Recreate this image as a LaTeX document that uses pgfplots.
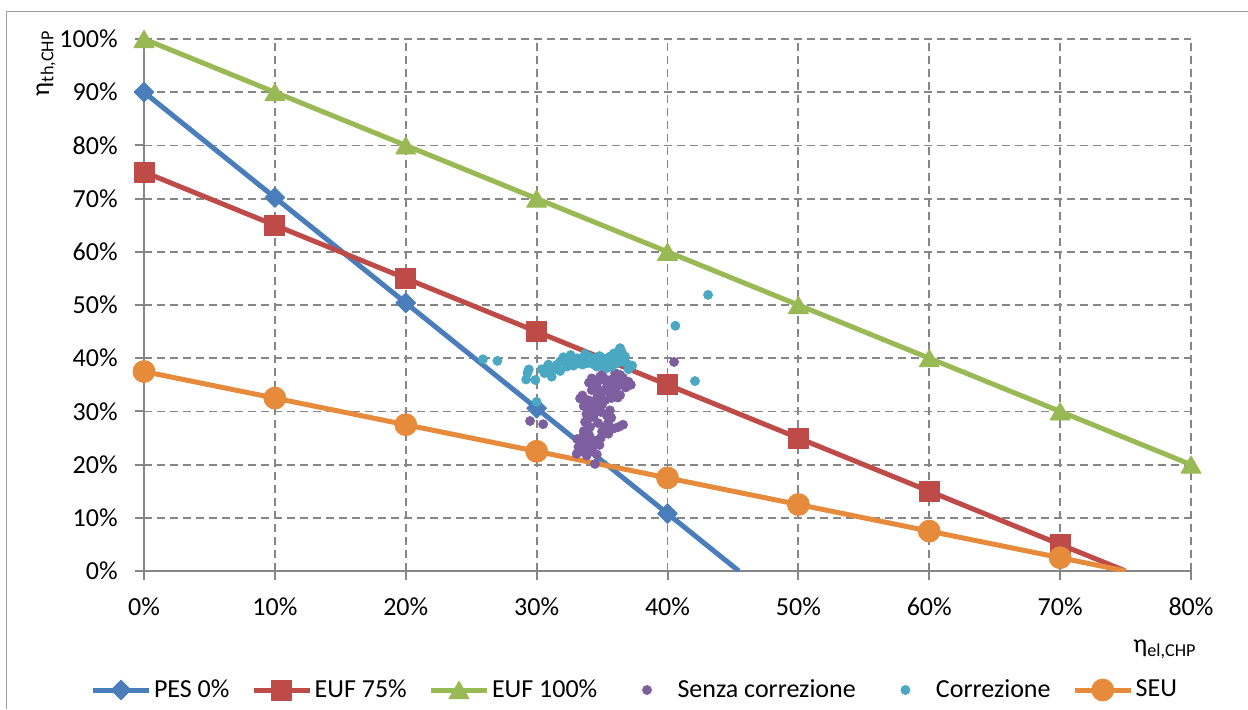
\documentclass[border=0pt]{standalone}
\usepackage{pgfplots}
\pgfplotsset{compat=1.18}
\usepackage{fontspec}
\setmainfont{Carlito}

\definecolor{cBlue}{HTML}{4A7EBB}
\definecolor{cRed}{HTML}{BE4B48}
\definecolor{cGreen}{HTML}{98B954}
\definecolor{cPurple}{HTML}{7D5FA0}
\definecolor{cTeal}{HTML}{4BA8C3}
\definecolor{cOrange}{HTML}{E68A3C}
\definecolor{axgray}{RGB}{134,134,134}

\begin{document}
\begin{tikzpicture}[x=0.5pt,y=-0.5pt,font=\fontsize{13}{15}\selectfont]
\useasboundingbox (0,0) rectangle (1248,709);
\draw[axgray!80, line width=0.8pt] (6.5,709) -- (6.5,11.5) -- (1248,11.5);
\coordinate (O) at (144,571);
\node[rotate=90, anchor=base east, inner sep=0pt] at (49,30) {η\textsubscript{th,CHP}};
\node[anchor=base east, inner sep=0pt] at (1197,652) {η\textsubscript{el,CHP}};
\begin{axis}[
    at={(O)}, anchor=south west,
    scale only axis, width=523.5pt, height=266pt,
    xmin=0, xmax=80, ymin=0, ymax=100,
    xtick={0,10,...,80}, ytick={0,10,...,100},
    /pgf/number format/assume math mode=true,
    xticklabel={\pgfmathprintnumber{\tick}\%},
    yticklabel={\pgfmathprintnumber{\tick}\%},
    axis x line*=bottom, axis y line*=left,
    axis line style={draw=axgray, line width=1pt, -},
    tick align=outside, major tick length=4.5pt,
    tick style={draw=axgray, line width=1pt},
    xticklabel style={anchor=north, inner sep=0pt, yshift=-8.5pt},
    yticklabel style={anchor=east, inner sep=0pt, xshift=-8.5pt},
    grid=major,
    major grid style={draw=axgray, line width=0.9pt, dash pattern=on 4pt off 2.5pt},
    legend columns=6,
    legend style={at={(0.469,-0.2237)}, anchor=center, draw=none, fill=none,
        nodes={inner sep=1.25pt},
        /tikz/every odd column/.append style={column sep=0pt},
        /tikz/every even column/.append style={column sep=9.6pt}},
    legend image code/.code={%
        \path[draw=none, fill=none] (0pt,-5pt) rectangle (28pt,5pt);
        \draw[mark repeat=2,mark phase=2,#1] plot coordinates {(0pt,0pt)(14pt,0pt)(28pt,0pt)};},
    every axis plot/.append style={line width=2.5pt, line join=round},
]
% tails of the lines down to the x axis, without markers
\addplot[cBlue, no marks, forget plot] coordinates {(40,10.8) (45.45,0)};
\addplot[cRed, no marks, forget plot] coordinates {(70,5) (75,0)};

\addplot[cBlue, mark=square*, mark size=3.5pt, mark options={rotate=45, line width=0.4pt}] coordinates {
    (0,90) (10,70.2) (20,50.4) (30,30.6) (40,10.8)
};
\addlegendentry{PES 0\%}
\addplot[cRed, mark=square*, mark size=5pt, mark options={line width=0.4pt}] coordinates {
    (0,75) (10,65) (20,55) (30,45) (40,35) (50,25) (60,15) (70,5)
};
\addlegendentry{EUF 75\%}
\addplot[cGreen, mark=triangle*, mark size=5.8pt, mark options={line width=0.4pt, yshift=-1.4pt}] coordinates {
    (0,100) (10,90) (20,80) (30,70) (40,60) (50,50) (60,40) (70,30) (80,20)
};
\addlegendentry{EUF 100\%}
\addplot[cPurple, only marks, mark=*, mark size=2.3pt, mark options={line width=0.3pt}] coordinates {
    (34.21,36.21) (34.85,36.53) (35.36,35.90) (35.87,36.21) (36.38,36.85) (37.02,35.58)
    (34.59,34.64) (35.36,34.64) (36.12,34.64) (34.21,34.01) (34.85,33.06) (35.61,33.38)
    (36.38,33.06) (33.32,32.43) (33.95,32.11) (34.59,32.43) (35.23,32.11) (33.95,30.22)
    (34.59,30.54) (34.34,28.96) (33.70,28.01) (34.08,27.07) (35.36,29.27) (35.48,28.01)
    (35.23,27.07) (36.25,27.07) (35.48,25.80) (33.57,25.49) (33.32,24.54) (33.95,24.23)
    (34.34,24.54) (34.59,24.54) (33.19,23.28) (33.06,22.02) (33.83,21.70) (34.46,20.13)
    (34.85,35.90) (35.74,34.95) (36.38,35.27) (34.00,35.40) (35.00,36.90) (36.00,37.20)
    (36.60,36.30) (34.60,33.80) (35.90,33.90) (35.00,31.30) (34.20,31.50) (33.80,29.50)
    (34.90,29.90) (33.60,26.30) (34.00,25.60) (33.60,23.00) (34.10,22.70) (34.90,25.00)
    (35.90,26.80) (29.50,28.20) (30.50,27.60) (40.50,39.30)
    (33.50,33.00) (35.50,35.80) (36.80,34.50) (35.20,34.00) (34.40,35.20) (36.20,35.90)
    (35.70,32.50) (33.60,31.00) (34.70,31.40) (35.60,30.20) (34.40,29.60) (33.90,28.50)
    (35.70,28.80) (36.60,27.50) (34.70,27.80) (35.00,26.20) (33.90,26.60) (34.30,23.40)
    (33.40,22.50) (34.60,21.90) (34.80,23.70) (33.10,24.80) (36.20,32.60) (37.20,35.00)
};
\addlegendentry{Senza correzione}
\addplot[cTeal, only marks, mark=*, mark size=2.3pt, mark options={line width=0.3pt}] coordinates {
    (25.90,39.80) (27.00,39.50) (29.30,37.20) (29.20,36.00) (29.90,35.90) (30.00,31.80)
    (30.38,37.92) (30.82,38.30) (31.15,36.53) (31.02,37.79) (31.53,38.74) (31.79,39.37)
    (32.04,40.19) (32.30,38.42) (32.55,39.05) (32.93,39.68) (33.32,39.37) (33.70,40.82)
    (33.83,39.05) (34.21,39.68) (34.46,40.00) (34.59,38.42) (34.85,39.68) (35.10,40.00)
    (35.36,38.11) (35.61,40.32) (35.87,39.68) (36.12,39.05) (36.38,41.89) (36.51,40.63)
    (36.76,40.32) (37.02,37.92) (35.74,38.42) (31.30,38.20) (32.80,38.60) (33.50,38.80)
    (34.00,40.30) (35.00,39.00) (36.00,40.50) (36.60,39.30) (33.10,40.00) (31.80,37.60)
    (30.60,37.20) (36.30,41.50) (40.60,46.10) (43.10,51.90) (42.10,35.70)
    (30.90,38.80) (31.60,37.90) (32.30,39.60) (33.00,38.90) (33.90,39.90) (34.30,38.90)
    (34.80,40.40) (35.40,39.50) (35.90,40.90) (36.20,40.00) (36.90,39.00) (37.30,38.60)
    (32.60,40.60) (33.60,39.90) (34.90,38.70) (36.50,41.20) (29.40,37.90)
};
\addlegendentry{Correzione}
\addplot[cOrange, no marks, forget plot] coordinates {(70,2.5) (75,0)};
\addplot[cOrange, mark=*, mark size=5.5pt, mark options={line width=0.4pt}] coordinates {
    (0,37.5) (10,32.5) (20,27.5) (30,22.5) (40,17.5) (50,12.5) (60,7.5) (70,2.5)
};
\addlegendentry{SEU}
\end{axis}
\end{tikzpicture}
\end{document}
